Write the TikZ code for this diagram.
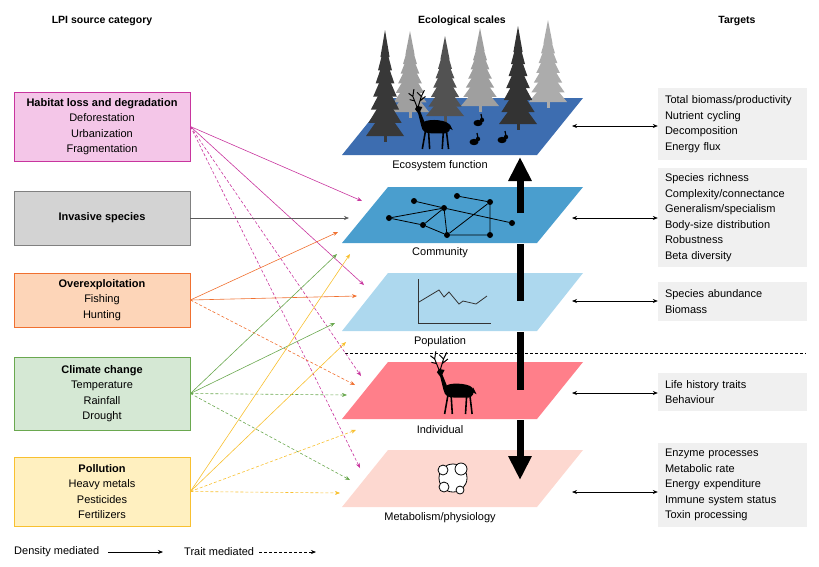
\documentclass[tikz,border=0pt]{standalone}
\usepackage{fontspec}
\setmainfont{Liberation Sans}
\usetikzlibrary{arrows.meta}
\definecolor{hab}{HTML}{C8359E}\definecolor{habf}{HTML}{F4C6E8}
\definecolor{inv}{HTML}{808080}\definecolor{invf}{HTML}{D3D3D3}
\definecolor{ovr}{HTML}{F07030}\definecolor{ovrf}{HTML}{FDD5B8}
\definecolor{cli}{HTML}{6AA84F}\definecolor{clif}{HTML}{D5E8D4}
\definecolor{pol}{HTML}{F8C030}\definecolor{polf}{HTML}{FFF0C0}
\definecolor{eco}{HTML}{3D6DB0}\definecolor{com}{HTML}{4A9ECE}
\definecolor{pop}{HTML}{ADD8EE}\definecolor{ind}{HTML}{FF7F8A}
\definecolor{met}{HTML}{FDD8D0}\definecolor{tgt}{HTML}{F0F0F0}
\tikzset{
 src/.style={draw=#1,fill=#1f,line width=0.8pt,minimum width=176,inner sep=0},
 txt/.style={font=\fontsize{11}{15.5}\selectfont,align=center},
 hdr/.style={font=\fontsize{10.5}{12}\selectfont\bfseries},
 tg/.style={fill=tgt,minimum width=149,inner ysep=0,inner xsep=7,font=\fontsize{11}{15.5}\selectfont,align=left,text width=135},
 lbl/.style={font=\fontsize{11}{12}\selectfont},
 con/.style={draw=#1,line width=0.6pt,-{Stealth[length=5,width=4]}},
 dcon/.style={con=#1,dash pattern=on 3pt off 2pt},
 dbl/.style={draw=black,line width=0.6pt,{Stealth[length=5,width=4]}-{Stealth[length=5,width=4]}},
 nd/.style={circle,fill=black,inner sep=0,minimum size=6},
}
\newcommand{\mydeer}[3]{% x y scale (faces left)
\begin{scope}[shift={(#1,#2)},xscale=-#3,yscale=#3]
\fill[black] (-12,-2) .. controls (-12,-8) and (8,-9) .. (12,-6) -- (16,-16) -- (14,-20) -- (19,-21) -- (21,-18) -- (18,-14) -- (15,-2) .. controls (14,4) and (10,5) .. (6,5) -- (-8,5) .. controls (-12,4) and (-13,1) .. (-12,-2) -- cycle;
\draw[black,line width=1.6] (-9,3) -- (-11,20) (-6,4) -- (-5,20) (8,4) -- (7,20) (11,3) -- (14,20);
\draw[black,line width=1] (18,-20) -- (15,-30) -- (12,-36) (15,-30) -- (19,-34) (16,-26) -- (11,-30)
 (19,-20) -- (23,-30) -- (22,-37) (23,-30) -- (27,-33) (22,-26) -- (26,-27);
\fill[black] (-12,-4) -- (-15,2) -- (-11,0) -- cycle;
\end{scope}}
\newcommand{\myrabbit}[2]{\begin{scope}[shift={(#1,#2)}]\fill[black] (0,0) ellipse (4.5 and 3.2); \fill[black] (4,-3) circle (2.2); \draw[black,line width=1.2] (4,-4) -- (3,-9);\end{scope}}
\newcommand{\mytree}[4]{% x bottom top color
\begin{scope}[shift={(#1,0)}]
\fill[#4] (-1.5,#2) rectangle (1.5,#2-10);
\pgfmathsetmacro{\st}{(#2-#3-8)/7}
\foreach \k in {0,...,6}{
 \pgfmathsetmacro{\yy}{#2-6-\k*\st}
 \pgfmathsetmacro{\yt}{\yy-\st-14}
 \pgfmathsetmacro{\ww}{19-\k*2.4}
 \fill[#4] (-\ww,\yy) -- (0,\yt) -- (\ww,\yy) -- cycle;}
\end{scope}}
\begin{document}
\begin{tikzpicture}[x=1pt,y=-1pt]
\useasboundingbox (0,0) rectangle (819,566);
\node[hdr] (h1) at (102,21) {LPI source category};
\node[hdr] (h2) at (462,21) {Ecological scales};
\node[hdr] (h3) at (737,21) {Targets};
\fill[com] (342,243) -- (537,243) -- (583,187) -- (388,187) -- cycle;
\fill[pop] (342,331) -- (537,331) -- (583,273) -- (388,273) -- cycle;
\fill[ind] (342,419) -- (537,419) -- (583,362) -- (388,362) -- cycle;
\fill[met] (342,507) -- (537,507) -- (583,450) -- (388,450) -- cycle;
\fill[eco] (342,155) -- (537,155) -- (583,98) -- (388,98) -- cycle;
\mytree{410}{118}{43}{gray!75}
\mytree{480}{112}{40}{gray!75}
\mytree{548}{108}{32}{gray!65}
\mytree{445}{122}{48}{black!68}
\mytree{385}{142}{42}{black!78}
\mytree{518}{130}{38}{black!80}
\mydeer{437}{128}{1.05}
\myrabbit{478}{123}\myrabbit{474}{142}\myrabbit{502}{140}
\node[lbl] (lEco) at (440,166) {Ecosystem function};
\node[lbl] (lCom) at (440,253) {Community};
\node[lbl] (lPop) at (440,342) {Population};
\node[lbl] (lInd) at (440,430) {Individual};
\node[lbl] (lMet) at (440,518) {Metabolism/physiology};
\node[nd] (n1) at (414,201) {};\node[nd] (n2) at (457,196) {};\node[nd] (n3) at (490,202) {};
\node[nd] (n4) at (444,208) {};\node[nd] (n5) at (389,218) {};\node[nd] (n6) at (423,225) {};
\node[nd] (n7) at (512,223) {};\node[nd] (n8) at (447,235) {};\node[nd] (n9) at (490,235) {};
\draw[line width=0.8] (n1)--(n4)--(n7) (n2)--(n3) (n5)--(n4) (n5)--(n6) (n4)--(n6) (n4)--(n8) (n6)--(n8) (n8)--(n9) (n9)--(n3) (n8)--(n3);
\draw[line width=0.8,black!80] (418,279) -- (418,323) -- (491,323);
\draw[line width=0.8,black!80] (419,302) -- (439,290) -- (444,297) -- (449,292) -- (459,304) -- (463,301) -- (476,304) -- (487,296);
\mydeer{460}{392}{1.1}
\draw[fill=white,line width=0.8] (453,478) circle (14);
\draw[fill=white,line width=0.8] (443,470) circle (5) (461,469) circle (6) (444,487) circle (5) (460,490) circle (4);
\coordinate (a1) at (520,213);\coordinate (a2) at (520,157);
\coordinate (b1) at (520,244);\coordinate (b2) at (520,301);
\coordinate (c1) at (520,332);\coordinate (c2) at (520,390);
\coordinate (d1) at (520,420);\coordinate (d2) at (520,480);
\draw[line width=7,-{Triangle[length=24,width=22]}] (a1) -- (a2);
\draw[line width=7] (b1) -- (b2) (c1) -- (c2);
\draw[line width=7,-{Triangle[length=24,width=22]}] (d1) -- (d2);
\coordinate (s1) at (345,353);\coordinate (s2) at (806,353);
\draw[dash pattern=on 3pt off 2pt,line width=0.6] (s1) -- (s2);
\node[src=hab,minimum height=69,txt] (hab) at (102,126.5) {\textbf{Habitat loss and degradation}\\Deforestation\\Urbanization\\Fragmentation};
\node[src=inv,minimum height=54,txt] (inv) at (102,218) {\textbf{Invasive species}};
\node[src=ovr,minimum height=54,txt] (ovr) at (102,300) {\textbf{Overexploitation}\\Fishing\\Hunting};
\node[src=cli,minimum height=73,txt] (cli) at (102,393.5) {\textbf{Climate change}\\Temperature\\Rainfall\\Drought};
\node[src=pol,minimum height=69,txt] (pol) at (102,491.5) {\textbf{Pollution}\\Heavy metals\\Pesticides\\Fertilizers};
\coordinate (tH1) at (362,201);\coordinate (tH2) at (364,285);\coordinate (tH3) at (361,376);\coordinate (tH4) at (360,468);
\coordinate (tI1) at (349,218);
\coordinate (tO1) at (338,232);\coordinate (tO2) at (357,296);\coordinate (tO3) at (355,385);
\coordinate (tC1) at (337,254);\coordinate (tC2) at (335,323);\coordinate (tC3) at (347,395);\coordinate (tC4) at (350,480);
\coordinate (tP1) at (350,254);\coordinate (tP2) at (346,342);\coordinate (tP3) at (356,430);\coordinate (tP4) at (340,493);
\draw[con=hab] (hab.east) -- (tH1); \draw[con=hab] (hab.east) -- (tH2);
\draw[dcon=hab] (hab.east) -- (tH3); \draw[dcon=hab] (hab.east) -- (tH4);
\draw[con=inv!70!black] (inv.east) -- (tI1);
\draw[con=ovr] (ovr.east) -- (tO1); \draw[con=ovr] (ovr.east) -- (tO2); \draw[dcon=ovr] (ovr.east) -- (tO3);
\draw[con=cli] (cli.east) -- (tC1); \draw[con=cli] (cli.east) -- (tC2);
\draw[dcon=cli] (cli.east) -- (tC3); \draw[dcon=cli] (cli.east) -- (tC4);
\draw[con=pol] (pol.east) -- (tP1); \draw[con=pol] (pol.east) -- (tP2);
\draw[dcon=pol] (pol.east) -- (tP3); \draw[dcon=pol] (pol.east) -- (tP4);
\node[tg,minimum height=72] (g1) at (732.5,124) {Total biomass/productivity\\Nutrient cycling\\Decomposition\\Energy flux};
\node[tg,minimum height=99] (g2) at (732.5,217.5) {Species richness\\Complexity/connectance\\Generalism/specialism\\Body-size distribution\\Robustness\\Beta diversity};
\node[tg,minimum height=39] (g3) at (732.5,301.5) {Species abundance\\Biomass};
\node[tg,minimum height=38] (g4) at (732.5,392) {Life history traits\\Behaviour};
\node[tg,minimum height=84] (g5) at (732.5,485) {Enzyme processes\\Metabolic rate\\Energy expenditure\\Immune system status\\Toxin processing};
\foreach \y/\n in {126/1,218/2,301/3,393/4,492/5}{
 \coordinate (r\n) at (572,\y);
 \draw[dbl] (r\n) -- (g\n.west|-r\n);}
\node[lbl,anchor=west,inner sep=0] (ld) at (14,552) {Density mediated};
\node[lbl,anchor=west,inner sep=0] (lt) at (184,552) {Trait mediated};
\coordinate (le1) at (163,552);\coordinate (le2) at (316,552);
\draw[con=black] (ld.east)++(9,0) -- (le1);
\draw[dcon=black] (lt.east)++(5,0) -- (le2);
\end{tikzpicture}
\end{document}
